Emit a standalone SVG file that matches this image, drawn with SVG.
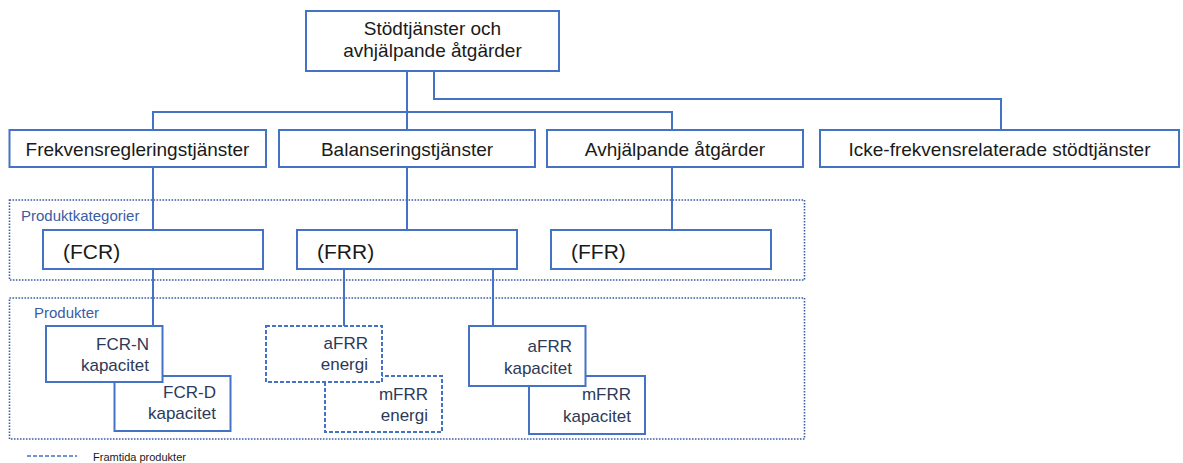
<svg xmlns="http://www.w3.org/2000/svg" width="1183" height="463" viewBox="0 0 1183 463">
<defs>
<style>
.box{fill:#fff;stroke:#4472c4;stroke-width:2}
.fut{fill:#fff;stroke:#4472c4;stroke-width:2;stroke-dasharray:4 2}
.grp{fill:none;stroke:#3a5da3;stroke-width:1.6;stroke-dasharray:1.6 1.4}
.con{fill:none;stroke:#4472c4;stroke-width:2}
.t{font-family:"Liberation Sans",Arial,sans-serif;font-size:19px;fill:#1a1a1a}
.c{font-family:"Liberation Sans",Arial,sans-serif;font-size:21px;fill:#1a1a1a}
.p{font-family:"Liberation Sans",Arial,sans-serif;font-size:17px;fill:#2c3a58;text-anchor:end}
.g{font-family:"Liberation Sans",Arial,sans-serif;font-size:15px;fill:#3a5da3}
</style>
</defs>
<rect width="1183" height="463" fill="#fff"/>
<g id="groups">
<rect class="grp" x="9.5" y="200" width="795" height="80"/>
<rect class="grp" x="9.5" y="298" width="795" height="141"/>
<text class="g" x="21" y="221">Produktkategorier</text>
<text class="g" x="34" y="318">Produkter</text>
</g>
<g id="connectors">
<polyline class="con" points="407,71 407,130"/>
<polyline class="con" points="153,130 153,112 672,112 672,130"/>
<polyline class="con" points="434,71 434,99 1001,99 1001,130"/>
<polyline class="con" points="153,167 153,230"/>
<polyline class="con" points="407,167 407,230"/>
<polyline class="con" points="672,167 672,230"/>
<polyline class="con" points="153,269 153,326"/>
<polyline class="con" points="344,269 344,326"/>
<polyline class="con" points="493,269 493,326"/>
</g>
<g id="root">
<rect class="box" x="306" y="11" width="253" height="60"/>
<text class="t" x="432.5" y="35" text-anchor="middle">Stödtjänster och</text>
<text class="t" x="432.5" y="57" text-anchor="middle">avhjälpande åtgärder</text>
</g>
<g id="frekvens">
<rect class="box" x="9.5" y="130" width="256.5" height="37"/>
<text class="t" x="137.5" y="156" text-anchor="middle">Frekvensregleringstjänster</text>
</g>
<g id="balansering">
<rect class="box" x="279" y="130" width="256" height="37"/>
<text class="t" x="407" y="156" text-anchor="middle">Balanseringstjänster</text>
</g>
<g id="avhjalpande">
<rect class="box" x="547" y="130" width="256" height="37"/>
<text class="t" x="675" y="156" text-anchor="middle">Avhjälpande åtgärder</text>
</g>
<g id="icke">
<rect class="box" x="820" y="130" width="359" height="37"/>
<text class="t" x="999.5" y="156" text-anchor="middle">Icke-frekvensrelaterade stödtjänster</text>
</g>
<g id="fcr">
<rect class="box" x="43" y="230" width="220" height="39"/>
<text class="c" x="63" y="259">(FCR)</text>
</g>
<g id="frr">
<rect class="box" x="297" y="230" width="220" height="39"/>
<text class="c" x="317" y="259">(FRR)</text>
</g>
<g id="ffr">
<rect class="box" x="551" y="230" width="220" height="39"/>
<text class="c" x="571" y="259">(FFR)</text>
</g>
<g id="fcr-d">
<rect class="box" x="114.5" y="376" width="116" height="55"/>
<text class="p" x="216" y="398">FCR-D</text>
<text class="p" x="216" y="419">kapacitet</text>
</g>
<g id="fcr-n">
<rect class="box" x="46" y="326" width="116.5" height="56"/>
<text class="p" x="149" y="350">FCR-N</text>
<text class="p" x="149" y="371">kapacitet</text>
</g>
<g id="mfrr-energi">
<rect class="fut" x="325" y="376" width="117" height="56"/>
<text class="p" x="428" y="400">mFRR</text>
<text class="p" x="428" y="421">energi</text>
</g>
<g id="afrr-energi">
<rect class="fut" x="266" y="326" width="116" height="56"/>
<text class="p" x="368" y="349">aFRR</text>
<text class="p" x="368" y="370">energi</text>
</g>
<g id="mfrr-kapacitet">
<rect class="box" x="529" y="376" width="116" height="58"/>
<text class="p" x="631" y="400">mFRR</text>
<text class="p" x="631" y="422">kapacitet</text>
</g>
<g id="afrr-kapacitet">
<rect class="box" x="469" y="326" width="116.5" height="60"/>
<text class="p" x="572" y="352">aFRR</text>
<text class="p" x="572" y="374">kapacitet</text>
</g>
<g id="legend">
<line x1="27" y1="456" x2="77" y2="456" stroke="#4472c4" stroke-width="1.6" stroke-dasharray="4 2"/>
<text x="93" y="461" font-family="'Liberation Sans',Arial,sans-serif" font-size="11px" fill="#1a1a1a">Framtida produkter</text>
</g>
</svg>
